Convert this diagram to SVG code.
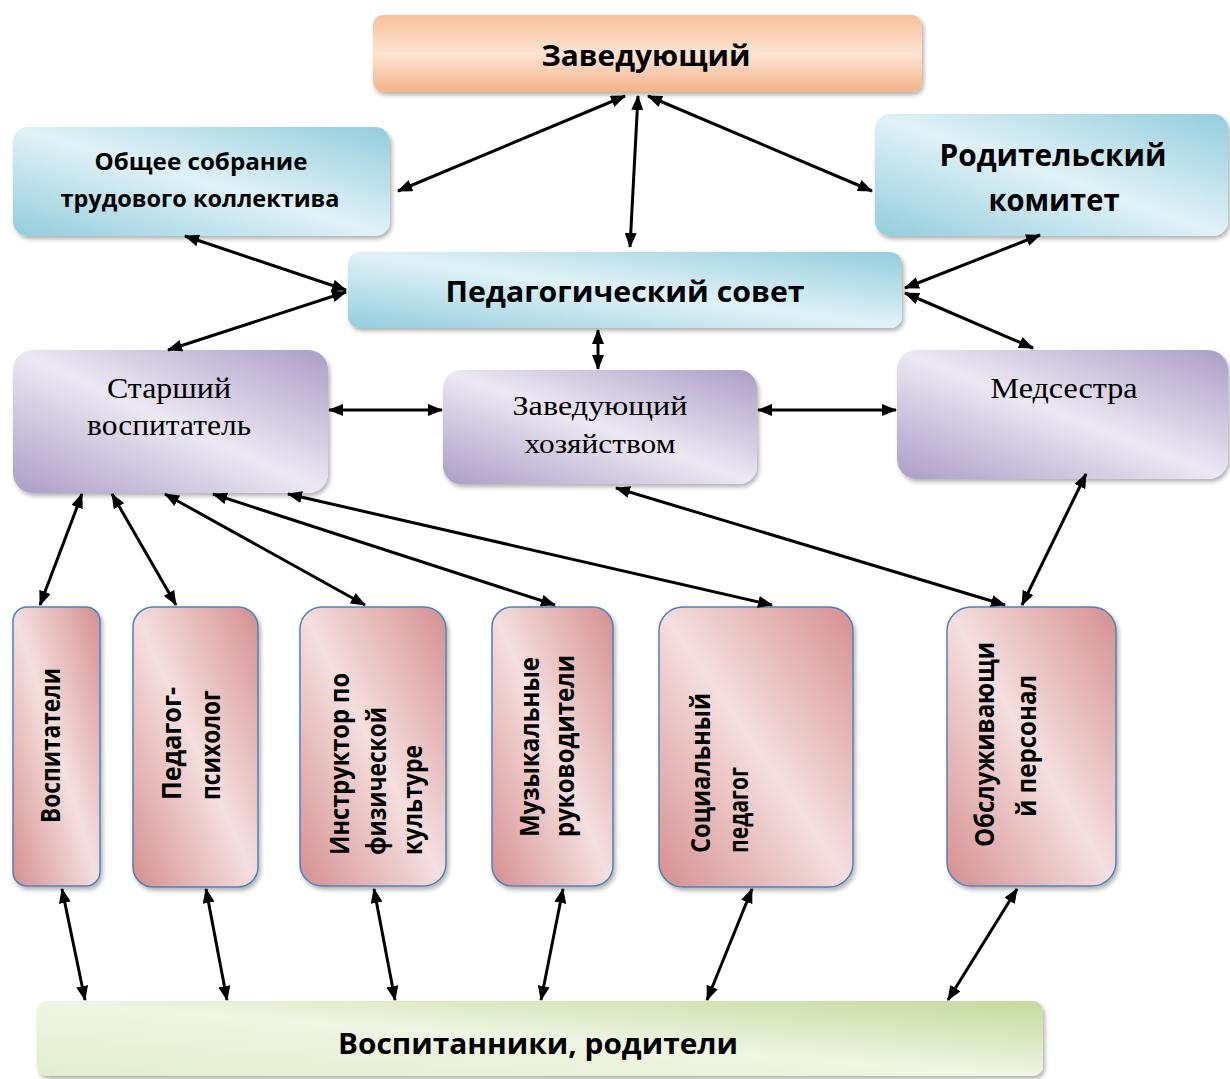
<svg xmlns="http://www.w3.org/2000/svg" width="1230" height="1079" viewBox="0 0 1230 1079">
<style>
.bs{font-family:"Open Sans","Noto Sans","Liberation Sans",sans-serif;font-weight:bold;fill:#000}
.sf{font-family:"Liberation Serif","DejaVu Serif",serif;fill:#000}
.c line{stroke:#000;stroke-width:3;marker-start:url(#ah);marker-end:url(#ah)}
.pink{fill:url(#gPink);stroke:#4f81bd;stroke-width:1.5;filter:url(#sh)}
.blue{fill:url(#gBlue);filter:url(#sh)}
.purp{fill:url(#gPurp);filter:url(#sh)}
</style>
<defs>
<marker id="ah" viewBox="0 0 15 12" refX="14" refY="6" markerWidth="15" markerHeight="12" markerUnits="userSpaceOnUse" orient="auto-start-reverse">
<path d="M0,0 L15,6 L0,12 z" fill="#000"/>
</marker>
<filter id="sh" x="-10%" y="-10%" width="125%" height="125%">
<feDropShadow dx="2" dy="3" stdDeviation="2" flood-color="#000" flood-opacity="0.3"/>
</filter>
<linearGradient id="gOr" x1="0" y1="0" x2="0" y2="1">
<stop offset="0" stop-color="#f8c09b"/>
<stop offset="0.5" stop-color="#fde4d3"/>
<stop offset="1" stop-color="#f5b38a"/>
</linearGradient>
<linearGradient id="gBlue" x1="0" y1="1" x2="1" y2="0">
<stop offset="0" stop-color="#93cddd"/>
<stop offset="0.5" stop-color="#e0f2f7"/>
<stop offset="1" stop-color="#93cddd"/>
</linearGradient>
<linearGradient id="gPurp" x1="0" y1="1" x2="1" y2="0">
<stop offset="0" stop-color="#ab9dc6"/>
<stop offset="0.5" stop-color="#ece8f3"/>
<stop offset="1" stop-color="#ab9dc6"/>
</linearGradient>
<linearGradient id="gPink" x1="0" y1="1" x2="1" y2="0">
<stop offset="0" stop-color="#d58f90"/>
<stop offset="0.5" stop-color="#f5dfdf"/>
<stop offset="1" stop-color="#d58f90"/>
</linearGradient>
<linearGradient id="gGreen" x1="0" y1="1" x2="1" y2="0">
<stop offset="0" stop-color="#e3eecf"/>
<stop offset="0.5" stop-color="#eef5e2"/>
<stop offset="1" stop-color="#c3da9c"/>
</linearGradient>
</defs>
<rect width="1230" height="1079" fill="#fff"/>

<g id="zaveduyushchiy">
<rect x="373" y="15" width="549" height="77" rx="10" fill="url(#gOr)" filter="url(#sh)"/>
<text class="bs" x="646" y="66" font-size="29" text-anchor="middle" textLength="209" lengthAdjust="spacingAndGlyphs">Заведующий</text>
</g>
<g id="obshchee-sobranie">
<rect class="blue" x="13" y="127" width="377" height="109" rx="15"/>
<text class="bs" x="201" y="170" font-size="23" text-anchor="middle" textLength="213" lengthAdjust="spacingAndGlyphs">Общее собрание</text>
<text class="bs" x="200" y="207" font-size="23" text-anchor="middle" textLength="279" lengthAdjust="spacingAndGlyphs">трудового коллектива</text>
</g>
<g id="roditelskiy-komitet">
<rect class="blue" x="875" y="114" width="353" height="122" rx="15"/>
<text class="bs" x="1053" y="166" font-size="31" text-anchor="middle" textLength="227" lengthAdjust="spacingAndGlyphs">Родительский</text>
<text class="bs" x="1054" y="211" font-size="31" text-anchor="middle" textLength="131" lengthAdjust="spacingAndGlyphs">комитет</text>
</g>
<g id="ped-sovet">
<rect class="blue" x="348" y="252" width="554" height="76" rx="12"/>
<text class="bs" x="625" y="302" font-size="29" text-anchor="middle" textLength="359" lengthAdjust="spacingAndGlyphs">Педагогический совет</text>
</g>
<g id="starshiy-vospitatel">
<rect class="purp" x="13" y="350" width="315" height="143" rx="20"/>
<text class="sf" x="169" y="398" font-size="30" text-anchor="middle" textLength="124" lengthAdjust="spacingAndGlyphs">Старший</text>
<text class="sf" x="169" y="435" font-size="30" text-anchor="middle" textLength="164" lengthAdjust="spacingAndGlyphs">воспитатель</text>
</g>
<g id="zavkhoz">
<rect class="purp" x="443" y="370" width="314" height="114" rx="18"/>
<text class="sf" x="600" y="415" font-size="28" text-anchor="middle" textLength="175" lengthAdjust="spacingAndGlyphs">Заведующий</text>
<text class="sf" x="600" y="453" font-size="28" text-anchor="middle" textLength="151" lengthAdjust="spacingAndGlyphs">хозяйством</text>
</g>
<g id="medsestra">
<rect class="purp" x="897" y="350" width="331" height="129" rx="20"/>
<text class="sf" x="1064" y="398" font-size="30" text-anchor="middle" textLength="147" lengthAdjust="spacingAndGlyphs">Медсестра</text>
</g>

<g id="vospitateli">
<rect class="pink" x="13" y="607" width="87" height="279" rx="14"/>
<text class="bs" font-size="26" transform="translate(60,823) rotate(-90)" textLength="155" lengthAdjust="spacingAndGlyphs">Воспитатели</text>
</g>
<g id="pedagog-psikholog">
<rect class="pink" x="133" y="607" width="125" height="280" rx="20"/>
<text class="bs" font-size="26" transform="translate(181,800) rotate(-90)" textLength="113" lengthAdjust="spacingAndGlyphs">Педагог-</text>
<text class="bs" font-size="26" transform="translate(220,800) rotate(-90)" textLength="110" lengthAdjust="spacingAndGlyphs">психолог</text>
</g>
<g id="instruktor">
<rect class="pink" x="300" y="607" width="146" height="279" rx="22"/>
<text class="bs" font-size="26" transform="translate(349,855) rotate(-90)" textLength="182" lengthAdjust="spacingAndGlyphs">Инструктор по</text>
<text class="bs" font-size="26" transform="translate(386,855) rotate(-90)" textLength="148" lengthAdjust="spacingAndGlyphs">физической</text>
<text class="bs" font-size="26" transform="translate(422,855) rotate(-90)" textLength="110" lengthAdjust="spacingAndGlyphs">культуре</text>
</g>
<g id="muzykalnye">
<rect class="pink" x="492" y="607" width="121" height="279" rx="20"/>
<text class="bs" font-size="26" transform="translate(539,837) rotate(-90)" textLength="180" lengthAdjust="spacingAndGlyphs">Музыкальные</text>
<text class="bs" font-size="26" transform="translate(574,837) rotate(-90)" textLength="182" lengthAdjust="spacingAndGlyphs">руководители</text>
</g>
<g id="sotsialnyy-pedagog">
<rect class="pink" x="659" y="607" width="194" height="280" rx="24"/>
<text class="bs" font-size="26" transform="translate(710,853) rotate(-90)" textLength="160" lengthAdjust="spacingAndGlyphs">Социальный</text>
<text class="bs" font-size="26" transform="translate(748,853) rotate(-90)" textLength="86" lengthAdjust="spacingAndGlyphs">педагог</text>
</g>
<g id="obsluzhivayushchiy">
<rect class="pink" x="947" y="607" width="169" height="279" rx="24"/>
<text class="bs" font-size="26" text-anchor="middle" transform="translate(994,744.5) rotate(-90)" textLength="205" lengthAdjust="spacingAndGlyphs">Обслуживающи</text>
<text class="bs" font-size="26" text-anchor="middle" transform="translate(1036,746) rotate(-90)" textLength="142" lengthAdjust="spacingAndGlyphs">й персонал</text>
</g>
<g id="vospitanniki">
<rect x="37" y="1001" width="1006" height="75" rx="10" fill="url(#gGreen)" filter="url(#sh)"/>
<text class="bs" x="538" y="1054" font-size="29" text-anchor="middle" textLength="400" lengthAdjust="spacingAndGlyphs">Воспитанники, родители</text>
</g>

<g id="connectors" class="c">
<line x1="625" y1="96" x2="398" y2="191"/>
<line x1="638" y1="96" x2="630" y2="247"/>
<line x1="648" y1="96" x2="872" y2="191"/>
<line x1="185" y1="236" x2="346" y2="290"/>
<line x1="168" y1="350" x2="346" y2="292"/>
<line x1="1040" y1="235" x2="905" y2="288"/>
<line x1="905" y1="293" x2="1033" y2="348"/>
<line x1="598" y1="330" x2="598" y2="369"/>
<line x1="329" y1="410" x2="442" y2="410"/>
<line x1="758" y1="410" x2="896" y2="410"/>
<line x1="82" y1="494" x2="40" y2="605"/>
<line x1="112" y1="494" x2="176" y2="605"/>
<line x1="165" y1="494" x2="365" y2="605"/>
<line x1="213" y1="494" x2="555" y2="605"/>
<line x1="288" y1="494" x2="772" y2="605"/>
<line x1="616" y1="488" x2="1005" y2="605"/>
<line x1="1086" y1="474" x2="1022" y2="605"/>
<line x1="62" y1="889" x2="85" y2="1000"/>
<line x1="206" y1="889" x2="227" y2="1000"/>
<line x1="374" y1="889" x2="395" y2="1000"/>
<line x1="563" y1="889" x2="541" y2="1000"/>
<line x1="752" y1="889" x2="707" y2="1000"/>
<line x1="1017" y1="889" x2="948" y2="1000"/>
</g>
</svg>
